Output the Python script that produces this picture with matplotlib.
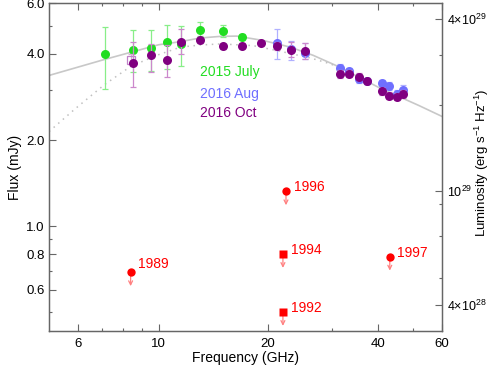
import numpy as np
import matplotlib
matplotlib.use('Agg')
import matplotlib.pyplot as plt
from matplotlib.ticker import FixedLocator, NullFormatter
from matplotlib.transforms import offset_copy

plt.rcParams['font.family'] = ['Liberation Sans', 'DejaVu Sans']
plt.rcParams['mathtext.fontset'] = 'custom'
plt.rcParams['mathtext.rm'] = 'Liberation Sans'
plt.rcParams['mathtext.it'] = 'Liberation Sans:italic'

# 2015 July
freq_jul = [7.13, 8.52, 9.51, 10.56, 11.55, 13.0, 15.0, 17.0]
flux_jul = [3.98, 4.13, 4.20, 4.39, 4.33, 4.86, 4.79, 4.57]
hi_jul = [4.94, 4.84, 4.86, 5.05, 4.99, 5.16, 5.03, 4.69]
lo_jul = [3.01, 3.45, 3.48, 3.55, 3.62, 4.60, 4.58, 4.45]

# 2016 Aug
freq_aug = [21.1, 23.1, 25.2, 31.5, 33.4, 35.5, 37.4, 41.0, 43.0, 45.1, 47.0]
flux_aug = [4.35, 4.17, 4.03, 3.56, 3.47, 3.27, 3.22, 3.17, 3.08, 2.90, 3.00]
hi_aug = [4.88, 4.42, 4.35, 3.68, 3.58, 3.38, 3.30, 3.25, 3.18, 3.00, 3.12]
lo_aug = [3.84, 3.81, 3.84, 3.45, 3.37, 3.16, 3.13, 3.08, 2.98, 2.80, 2.88]

# 2016 Oct
freq_oct = [8.52, 9.51, 10.56, 11.55, 13.0, 15.0, 17.0, 19.1, 21.1, 23.1, 25.2,
            31.5, 33.4, 35.5, 37.4, 41.0, 43.0, 45.1, 47.0]
flux_oct = [3.72, 3.95, 3.81, 4.40, 4.47, 4.25, 4.27, 4.36, 4.25, 4.13, 4.08,
            3.40, 3.41, 3.33, 3.21, 2.96, 2.85, 2.83, 2.90]
hi_oct = [4.38, 4.33, 4.30, 4.88, 4.58, 4.33, 4.35, 4.42, 4.38, 4.38, 4.35,
          3.50, 3.50, 3.42, 3.30, 3.05, 2.93, 2.91, 3.00]
lo_oct = [3.06, 3.45, 3.32, 4.00, 4.37, 4.17, 4.19, 4.30, 4.12, 3.89, 3.84,
          3.30, 3.32, 3.25, 3.13, 2.88, 2.77, 2.76, 2.80]

# open square point
freq_sq = [8.42]
flux_sq = [3.81]
hi_sq = [3.99]
lo_sq = [3.68]

# model curves
freq_solid = [5.0, 7.1, 10.0, 11.5, 13.0, 14.8, 16.4, 19.4, 23.0, 26.6, 31.5, 40.5, 51.9, 60.0]
flux_solid = [3.36, 3.82, 4.30, 4.41, 4.54, 4.60, 4.61, 4.45, 4.22, 3.95, 3.59, 3.04, 2.64, 2.42]
freq_dot = [5.0, 5.9, 7.1, 8.4, 10.0, 11.5, 13.0, 14.8, 18.2, 21.6, 26.1, 29.0, 31.5]
flux_dot = [2.14, 2.57, 3.12, 3.62, 3.97, 4.22, 4.29, 4.33, 4.27, 4.08, 3.87, 3.72, 3.59]

# historical upper limits
years = ['1989', '1992', '1994', '1996', '1997']
freq_lim = [8.38, 21.97, 21.97, 22.4, 43.2]
flux_lim = [0.691, 0.502, 0.80, 1.324, 0.783]
lim_marker = ['o', 's', 's', 'o', 'o']

lum_per_mjy = 1e29 / 1.324

c_jul = '#22dd22'
c_aug = '#6f6fff'
c_oct = '#800080'
c_red = '#ff0000'
fs = 9.5

fig = plt.figure(figsize=(4.91, 3.68), dpi=100)
ax = fig.add_axes([0.0998, 0.1014, 0.7998, 0.8896])

ax.plot(freq_solid, flux_solid, '-', color='#c8c8c8', lw=1.2, zorder=1)
ax.plot(freq_dot, flux_dot, color='#c0c0c0', lw=1.1, ls=(0, (1, 3)), zorder=1)

def errs(f, lo, hi):
    f = np.array(f)
    return [f - np.array(lo), np.array(hi) - f]

ax.errorbar(freq_jul, flux_jul, yerr=errs(flux_jul, lo_jul, hi_jul), fmt='none',
            ecolor='#88ee88', elinewidth=0.9, capsize=2.5, capthick=0.9, zorder=2)
ax.plot(freq_jul, flux_jul, 'o', color=c_jul, ms=6.5, mec='none', zorder=3)

ax.errorbar(freq_aug, flux_aug, yerr=errs(flux_aug, lo_aug, hi_aug), fmt='none',
            ecolor='#b0b0ff', elinewidth=0.9, capsize=2.5, capthick=0.9, zorder=4)
ax.plot(freq_aug, flux_aug, 'o', color=c_aug, ms=6.5, mec='none', zorder=5)

ax.errorbar(freq_sq, flux_sq, yerr=errs(flux_sq, lo_sq, hi_sq), fmt='none',
            ecolor='#d8a8d8', elinewidth=0.9, capsize=2.5, capthick=0.9, zorder=4)
ax.plot(freq_sq, flux_sq, 's', mfc='none', mec='#c080c8', ms=5.5, mew=0.9, zorder=5)

ax.errorbar(freq_oct, flux_oct, yerr=errs(flux_oct, lo_oct, hi_oct), fmt='none',
            ecolor='#cc88cc', elinewidth=0.9, capsize=2.5, capthick=0.9, zorder=6)
ax.plot(freq_oct, flux_oct, 'o', color=c_oct, ms=6.5, mec='none', zorder=7)

arrow_tr = offset_copy(ax.transData, fig=fig, x=0, y=-10, units='points')
for f, v, m, yr in zip(freq_lim, flux_lim, lim_marker, years):
    ax.plot([f], [v], m, color=c_red, ms=6 if m == 'o' else 5.5, mec='none', zorder=8)
    ax.annotate('', xy=(f, v), xycoords=arrow_tr, xytext=(f, v), textcoords='data',
                arrowprops=dict(arrowstyle='->', color='#ff8080', lw=0.9,
                                shrinkA=0, shrinkB=0, mutation_scale=7), zorder=7)
    dy = 6 if yr == '1989' else 3
    ax.annotate(yr, (f, v), xytext=(5.5, dy), textcoords='offset points',
                color=c_red, fontsize=10, va='center', ha='left')

ax.text(0.385, 0.789, '2015 July', color=c_jul, fontsize=10, transform=ax.transAxes, va='center')
ax.text(0.385, 0.723, '2016 Aug', color=c_aug, fontsize=10, transform=ax.transAxes, va='center')
ax.text(0.385, 0.664, '2016 Oct', color=c_oct, fontsize=10, transform=ax.transAxes, va='center')

ax.set_xscale('log')
ax.set_yscale('log')
ax.set_xlim(5, 60)
ax.set_ylim(0.432, 6.0)

ax.xaxis.set_major_locator(FixedLocator([6, 10, 20, 40, 60]))
ax.xaxis.set_minor_locator(FixedLocator([7, 8, 9, 30, 50]))
ax.set_xticklabels(['6', '10', '20', '40', '60'])
ax.xaxis.set_minor_formatter(NullFormatter())
ax.yaxis.set_major_locator(FixedLocator([0.6, 0.8, 1.0, 2.0, 4.0, 6.0]))
ax.yaxis.set_minor_locator(FixedLocator([0.5, 0.7, 0.9, 3.0, 5.0]))
ax.set_yticklabels(['0.6', '0.8', '1.0', '2.0', '4.0', '6.0'])
ax.yaxis.set_minor_formatter(NullFormatter())

ax.tick_params(which='both', direction='in', top=True, right=False, colors='#666666',
               labelcolor='black', labelsize=fs)
ax.tick_params(which='major', length=5, width=0.8)
ax.tick_params(which='minor', length=2.5, width=0.8)
ax.tick_params(axis='y', pad=3)
ax.tick_params(axis='x', pad=5)
for s in ax.spines.values():
    s.set_color('#666666')
    s.set_linewidth(1.0)

ax.set_xlabel('Frequency (GHz)', fontsize=fs + 0.5, labelpad=1)
ax.set_ylabel('Flux (mJy)', fontsize=fs + 0.5, labelpad=3)

ax2 = ax.twinx()
ax2.set_yscale('log')
ax2.set_ylim(0.432 * lum_per_mjy, 6.0 * lum_per_mjy)
ax2.yaxis.set_major_locator(FixedLocator([4e28, 1e29, 4e29]))
ax2.yaxis.set_minor_locator(FixedLocator([5e28, 7e28, 9e28, 2e29, 3e29]))
ax2.set_yticklabels([r'4$\times$10$^{28}$', r'10$^{29}$', r'4$\times$10$^{29}$'])
ax2.yaxis.set_minor_formatter(NullFormatter())
ax2.tick_params(which='both', direction='in', colors='#666666', labelcolor='black', labelsize=fs - 0.5)
ax2.tick_params(which='major', length=5, width=0.8)
ax2.tick_params(which='minor', length=2.5, width=0.8)
for s in ax2.spines.values():
    s.set_color('#666666')
ax2.set_ylabel(r'Luminosity (erg s$^{-1}$ Hz$^{-1}$)', fontsize=fs,
               rotation=90, va='center', ha='center')
ax2.yaxis.set_label_coords(1.103, 0.514)

fig.savefig('out.png', dpi=100)
